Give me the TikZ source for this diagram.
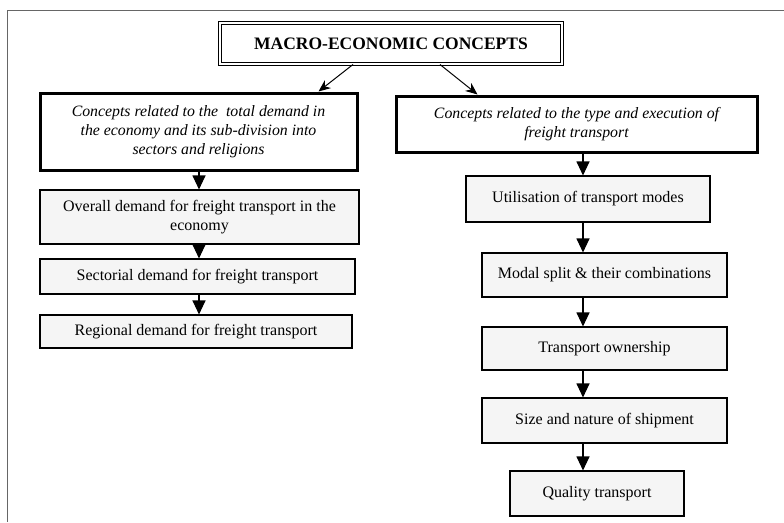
\documentclass[tikz,border=0pt]{standalone}
\usepackage{fontspec}
\setmainfont{Liberation Serif}
\usetikzlibrary{arrows.meta,calc}
\begin{document}
\begin{tikzpicture}[x=1pt,y=-1pt,
  txt/.style={font=\fontsize{16}{19.5}\selectfont},
  box/.style={txt, draw=black, line width=1.1pt, fill=black!4, inner sep=0pt, align=center},
  headbox/.style={txt, draw=black, line width=3pt, fill=white, inner sep=0pt, align=center, font=\fontsize{15.8}{19.2}\selectfont\itshape},
  arr/.style={line width=1.1pt, -{Triangle[width=13pt,length=14pt]}},
  toparr/.style={line width=1pt, -{Stealth[width=10pt,length=12pt]}}
]
% canvas and the partial page frame
\useasboundingbox (0,0) rectangle (784,522);
\fill[white] (0,0) rectangle (784,522);
\draw[black!60, line width=1pt] (784,10) -- (7,10) -- (7,522);

% column axes for the downward arrows
\coordinate (colL) at (199,0);
\coordinate (colR) at (583,0);

% title
\node[draw=black, double, double distance=2pt, line width=1pt, fill=white,
      minimum width=342pt, minimum height=41pt, inner sep=0pt,
      font=\fontsize{17.5}{20}\selectfont\bfseries] (title) at (391,43.5)
      {MACRO-ECONOMIC CONCEPTS};

% the two concept groups
\node[headbox, minimum width=317pt, minimum height=77pt] (lh) at (198.5,131.5)
  {Concepts related to the\ \ total demand in\\ the economy and its sub-division into\\ sectors and religions};
\node[headbox, minimum width=361pt, minimum height=56pt] (rh) at (576.5,124)
  {Concepts related to the type and execution of\\ freight transport};

% left column
\node[box, minimum width=319pt, minimum height=54pt] (ov) at (199.5,217)
  {Overall demand for freight transport in the\\ economy};
\node[box, minimum width=315pt, minimum height=35pt] (se) at (197.5,276.5)
  {Sectorial demand for freight transport};
\node[box, minimum width=312pt, minimum height=33pt] (re) at (196,331.5)
  {Regional demand for freight transport};

% right column
\node[box, minimum width=244pt, minimum height=46pt] (ut) at (588,199)
  {Utilisation of transport modes};
\node[box, minimum width=245pt, minimum height=44pt] (mo) at (604.5,275)
  {Modal split \& their combinations};
\node[box, minimum width=245pt, minimum height=43pt] (ow) at (604.5,348.5)
  {Transport ownership};
\node[box, minimum width=245pt, minimum height=45pt] (sz) at (604.5,420.5)
  {Size and nature of shipment};
\node[box, minimum width=174pt, minimum height=45pt] (qu) at (597,493.5)
  {Quality transport};

% links from the title
\draw[toparr] ([xshift=-38pt]title.south) -- ([xshift=120pt]lh.north);
\draw[toparr] ([xshift=49pt]title.south) -- ([xshift=-99pt]rh.north);

% downward chains
\draw[arr] (lh.south -| colL) -- (ov.north -| colL);
\draw[arr] (ov.south -| colL) -- (se.north -| colL);
\draw[arr] (se.south -| colL) -- (re.north -| colL);

\draw[arr] (rh.south -| colR) -- (ut.north -| colR);
\draw[arr] (ut.south -| colR) -- (mo.north -| colR);
\draw[arr] (mo.south -| colR) -- (ow.north -| colR);
\draw[arr] (ow.south -| colR) -- (sz.north -| colR);
\draw[arr] (sz.south -| colR) -- (qu.north -| colR);
\end{tikzpicture}
\end{document}
